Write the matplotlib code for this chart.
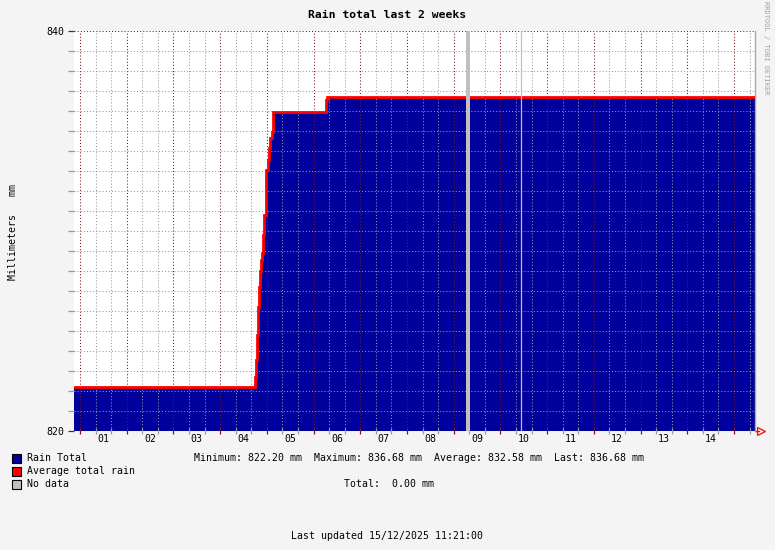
import numpy as np
import matplotlib.pyplot as plt
from matplotlib.transforms import blended_transform_factory

# days since 01/12/2025 00:00, step values (mm)
t_days = [-0.13, 3.747, 3.769, 3.78, 3.80, 3.83, 3.85, 3.876, 3.897, 3.92, 3.94,
          3.97, 3.99, 4.02, 4.04, 4.06, 4.10, 4.12, 4.14, 5.26, 5.28, 14.45]
rain_total = [822.2, 822.7, 823.55, 824.8, 826.2, 827.2, 828.0, 828.55, 828.9, 829.8, 830.8,
              831.9, 833.05, 833.55, 834.15, 834.65, 834.95, 835.45, 835.95, 836.55, 836.68, 836.68]
# unknown-data spans (days)
nodata = [(8.27, 8.34)]
nodata_lines = [9.44]
day_labels = ['01', '02', '03', '04', '05', '06', '07', '08', '09', '10', '11', '12', '13', '14']

W, H = 775, 550
bg = '#f4f4f4'
blue = '#00009c'
mono = 'DejaVu Sans Mono'
fs = 7.1

fig = plt.figure(figsize=(W / 100, H / 100), dpi=100, facecolor=bg)
ax = fig.add_axes([74 / W, 1 - 431 / H, (755 - 74) / W, 400 / H])
ax.set_facecolor('white')

ax.fill_between(t_days, 820, rain_total, step='post', color=blue, lw=0, zorder=1)
ax.step(t_days, rain_total, where='post', color='#ff0000', lw=2.0, zorder=3,
        solid_joinstyle='miter')
for a, b in nodata:
    ax.axvspan(a, b, color='#c0c0c0', lw=0, zorder=4)
for x in nodata_lines:
    ax.axvline(x, color='#c0c0c0', lw=0.9, zorder=4)

ax.set_xlim(-0.13, 14.45)
ax.set_ylim(820, 840)

ax.set_xticks(np.arange(0, 15))
ax.set_xticks(np.arange(0, 14.45, 1 / 3), minor=True)
ax.set_yticks([820, 840])
ax.set_yticks(np.arange(820, 841), minor=True)
ax.set_xticklabels([])
ax.set_yticklabels(['820', '840'], fontfamily=mono, fontsize=fs)

ax.grid(which='minor', color='#999999', ls=(0, (1, 2)), lw=0.75)
ax.grid(which='major', color='#7f1515', ls=(0, (1, 2)), lw=0.75)
ax.set_axisbelow(False)
ax.tick_params(which='major', color='#7f1515', length=4, width=0.9, direction='inout', pad=3)
ax.tick_params(which='minor', color='#999999', length=4, width=0.9, direction='inout')
ax.tick_params(axis='y', which='both', direction='out', length=4)

for s in ['left', 'top', 'bottom']:
    ax.spines[s].set_visible(False)
ax.spines['right'].set_color('#a8a8a8')
ax.spines['right'].set_linewidth(1)

tr = blended_transform_factory(ax.transData, ax.transAxes)
for i, lab in enumerate(day_labels):
    ax.text(i + 0.5, -0.021, lab, transform=tr, ha='center', va='center',
            fontfamily=mono, fontsize=fs)

# axis arrow
ax.plot([1.0, 1.006], [0, 0], color='red', lw=0.9, transform=ax.transAxes, clip_on=False)
ax.plot([1.009], [0], marker='>', mfc='none', mec='red', ms=5.5, mew=0.9,
        transform=ax.transAxes, clip_on=False)

def ftext(x, y, s, **kw):
    fig.text(x / W, 1 - y / H, s, fontfamily=mono, va='center', **kw)

ftext(387, 15, 'Rain total last 2 weeks', ha='center', fontsize=8.2, fontweight='bold')
ftext(13, 232, 'Millimeters   mm', ha='center', rotation=90, fontsize=fs)
ftext(766, 48, 'RRDTOOL / TOBI OETIKER', ha='center', rotation=270, fontsize=5, color='#a0a0a0')

legend_items = [('Rain Total', blue, 458), ('Average total rain', '#ff0000', 471),
                ('No data', '#c0c0c0', 484)]
for lab, col, y in legend_items:
    fig.patches.append(plt.Rectangle((12 / W, 1 - (y + 4.5) / H), 9 / W, 9 / H,
                                     transform=fig.transFigure, fc=col, ec='black', lw=0.8))
    ftext(27, y, lab, ha='left', fontsize=fs)

ftext(194, 458, 'Minimum: 822.20 mm  Maximum: 836.68 mm  Average: 832.58 mm  Last: 836.68 mm',
      ha='left', fontsize=fs)
ftext(344, 484, 'Total:  0.00 mm', ha='left', fontsize=fs)
ftext(387, 536, 'Last updated 15/12/2025 11:21:00', ha='center', fontsize=fs)

fig.savefig('out.png', dpi=100, facecolor=bg)
